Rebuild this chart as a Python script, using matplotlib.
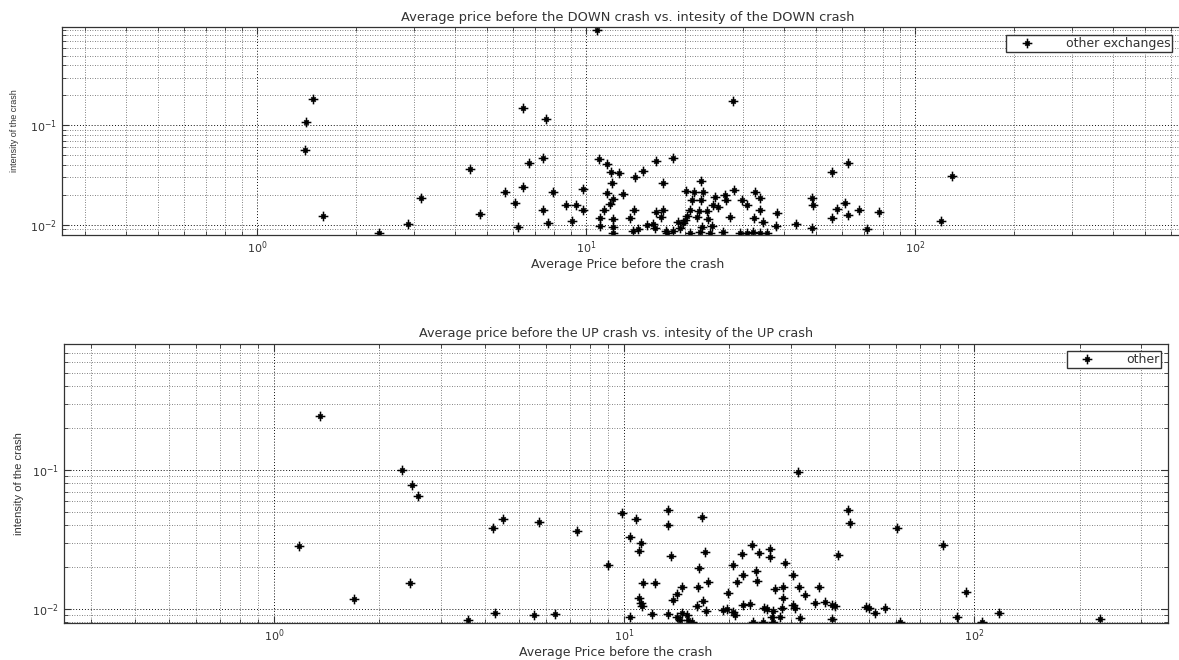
import numpy as np
import matplotlib
matplotlib.use("Agg")
import matplotlib.pyplot as plt
from matplotlib.path import Path
from matplotlib.ticker import LogLocator, NullFormatter, LogFormatterSciNotation

plt.rcParams['font.family'] = ['DejaVu Sans']
plt.rcParams['mathtext.default'] = 'regular'

# DOWN crash: average price before the crash vs. intensity
down_price = [1.48, 1.41, 1.40, 1.59, 2.35, 2.88, 3.15, 4.44, 4.76, 5.67,
              6.08, 6.21, 6.43, 6.43, 6.71, 7.40, 7.56, 7.40, 7.66, 7.94,
              8.70, 9.32, 9.07, 9.79, 9.79, 10.8, 10.95, 11.58, 11.91, 12.6,
              12.0, 11.58, 12.08, 11.83, 11.34, 11.03, 11.03, 12.08, 12.08, 12.08,
              12.96, 14.09, 14.9, 14.0, 13.6, 13.9, 14.39, 16.3, 18.38, 17.14,
              16.3, 17.14, 16.9, 15.98, 16.2, 17.5, 18.38, 28.0, 22.37, 20.1,
              21.3, 22.7, 21.0, 22.37, 24.7, 26.5, 26.6, 28.2, 24.3, 25.2,
              20.7, 22.06, 23.3, 20.3, 21.75, 23.5, 20.0, 19.04, 19.72, 27.4,
              29.8, 30.9, 32.6, 33.8, 33.8, 32.4, 34.5, 38.1, 37.8, 43.5,
              48.6, 49.0, 55.9, 57.9, 55.9, 48.6, 17.63, 20.7, 22.2, 23.8,
              26.1, 29.4, 30.9, 32.2, 33.8, 35.5, 15.33, 19.3, 22.5, 24.2,
              61.3, 62.6, 62.6, 67.6, 71.5, 77.7, 120.0, 129.6]
down_intensity = [0.183, 0.107, 0.0559, 0.0123, 0.0083, 0.0102, 0.0187, 0.0368, 0.0129, 0.0215,
                  0.0167, 0.0095, 0.148, 0.0242, 0.0423, 0.0475, 0.115, 0.0142, 0.0105, 0.0215,
                  0.0159, 0.0159, 0.0110, 0.0231, 0.0142, 0.915, 0.0464, 0.0413, 0.0343, 0.0335,
                  0.0266, 0.0210, 0.0183, 0.0163, 0.0142, 0.0118, 0.0098, 0.0115, 0.0095, 0.0083,
                  0.0206, 0.0305, 0.0351, 0.0142, 0.0118, 0.0087, 0.0091, 0.0443, 0.0475, 0.0266,
                  0.0135, 0.0142, 0.0120, 0.0102, 0.0093, 0.0087, 0.0087, 0.175, 0.0278, 0.0220,
                  0.0215, 0.0215, 0.0179, 0.0179, 0.0192, 0.0201, 0.0179, 0.0226, 0.0159, 0.0152,
                  0.0142, 0.0139, 0.0139, 0.0123, 0.0120, 0.0115, 0.0112, 0.0107, 0.0105, 0.0120,
                  0.0179, 0.0159, 0.0215, 0.0187, 0.0142, 0.0118, 0.0107, 0.0132, 0.0098, 0.0102,
                  0.0187, 0.0159, 0.0343, 0.0145, 0.0118, 0.0093, 0.0083, 0.0083, 0.0085, 0.0083,
                  0.0085, 0.0083, 0.0083, 0.0085, 0.0083, 0.0083, 0.0100, 0.0093, 0.0095, 0.0098,
                  0.0167, 0.0423, 0.0126, 0.0142, 0.0091, 0.0135, 0.0110, 0.0313]

# UP crash
up_price = [1.353, 1.693, 1.179, 2.321, 2.479, 2.579, 2.446, 3.584, 4.224, 4.511,
            4.28, 5.72, 5.53, 6.35, 7.34, 9.00, 9.87, 10.82, 13.36, 13.36,
            16.71, 10.40, 11.18, 11.04, 13.62, 17.03, 16.38, 11.33, 12.27, 11.04,
            11.18, 11.26, 10.40, 12.02, 13.36, 14.17, 14.65, 15.14, 14.45, 15.24,
            15.64, 13.8, 14.17, 14.65, 16.27, 17.38, 16.17, 16.82, 17.15, 19.83,
            19.18, 19.7, 20.48, 20.76, 20.48, 21.88, 21.03, 23.21, 21.74, 24.3,
            26.13, 26.13, 23.84, 23.99, 28.84, 30.4, 31.62, 27.0, 28.47, 28.47,
            21.88, 22.9, 25.12, 25.62, 26.65, 28.28, 27.91, 26.48, 23.37, 24.95,
            26.65, 30.4, 30.8, 31.83, 43.65, 44.23, 60.26, 81.55, 40.87, 36.07,
            32.9, 35.13, 37.52, 39.29, 40.08, 39.29, 49.13, 50.12, 52.14, 55.68,
            61.45, 94.87, 89.4, 105.4, 117.9, 229.1, 31.41]
up_intensity = [0.245, 0.0118, 0.0284, 0.100, 0.078, 0.065, 0.0154, 0.0083, 0.0383, 0.0444,
                0.0094, 0.0423, 0.0091, 0.0092, 0.0364, 0.0207, 0.049, 0.0444, 0.0516, 0.0402,
                0.0459, 0.033, 0.0298, 0.0261, 0.0241, 0.0257, 0.0197, 0.0154, 0.0154, 0.012,
                0.011, 0.0105, 0.0088, 0.0092, 0.0092, 0.0088, 0.0094, 0.0091, 0.0083, 0.0083,
                0.0081, 0.0116, 0.0128, 0.0144, 0.0144, 0.0156, 0.0105, 0.0114, 0.0097, 0.013,
                0.0098, 0.0100, 0.0095, 0.0091, 0.0207, 0.0176, 0.0156, 0.0289, 0.0249, 0.0253,
                0.027, 0.0237, 0.0188, 0.0159, 0.0214, 0.0176, 0.0144, 0.0139, 0.0144, 0.012,
                0.0107, 0.0109, 0.0102, 0.0100, 0.0097, 0.0102, 0.0088, 0.0088, 0.0081, 0.0080,
                0.0081, 0.0107, 0.0102, 0.0086, 0.0516, 0.0416, 0.0383, 0.0289, 0.0245, 0.0144,
                0.0126, 0.011, 0.0112, 0.0107, 0.0105, 0.0085, 0.0103, 0.0102, 0.0094, 0.0102,
                0.0080, 0.0133, 0.0088, 0.0081, 0.0094, 0.0085, 0.0967]

# matlab-like '*' marker: plus with shorter diagonals
d = 0.45
star = Path([(-1, 0), (1, 0), (0, -1), (0, 1), (-d, -d), (d, d), (-d, d), (d, -d)],
            [Path.MOVETO, Path.LINETO] * 4)

txt = '0.2'
fig = plt.figure(figsize=(11.79, 6.6), dpi=100)

ax1 = fig.add_axes([0.0526, 0.6439, 0.9593, 0.3152])
ax2 = fig.add_axes([0.0543, 0.0561, 0.9364, 0.4227])


def style(ax, xlim, ylim):
    ax.set_xscale('log')
    ax.set_yscale('log')
    ax.set_xlim(*xlim)
    ax.set_ylim(*ylim)
    for a in (ax.xaxis, ax.yaxis):
        a.set_major_locator(LogLocator(base=10))
        a.set_minor_locator(LogLocator(base=10, subs=np.arange(2, 10), numticks=50))
        a.set_minor_formatter(NullFormatter())
        a.set_major_formatter(LogFormatterSciNotation())
    ax.grid(True, which='major', color='0.05', linestyle=(0, (1, 2)), linewidth=0.7)
    ax.grid(True, which='minor', color='0.35', linestyle=(0, (1, 2)), linewidth=0.6)
    ax.tick_params(which='both', direction='in', top=True, right=True,
                   colors='0.2', labelcolor=txt, labelsize=8)
    ax.tick_params(which='major', length=5, width=0.8)
    ax.tick_params(which='minor', length=3, width=0.6)
    for s in ax.spines.values():
        s.set_color('0.2')
        s.set_linewidth(0.9)


style(ax1, (0.2555, 700), (0.00792, 0.97))
style(ax2, (0.2512, 358), (0.00793, 0.806))

ax1.plot(down_price, down_intensity, linestyle='none', marker=star, markersize=7,
         markeredgewidth=1.1, color='k', label='other exchanges')
ax2.plot(up_price, up_intensity, linestyle='none', marker=star, markersize=7,
         markeredgewidth=1.1, color='k', label='other')

ax1.set_title('Average price before the DOWN crash vs. intesity of the DOWN crash',
              fontsize=9.4, color=txt, pad=4)
ax2.set_title('Average price before the UP crash vs. intesity of the UP crash',
              fontsize=9.2, color=txt, pad=5)
ax1.set_xlabel('Average Price before the crash', fontsize=9, color=txt, labelpad=1)
ax2.set_xlabel('Average Price before the crash', fontsize=9, color=txt, labelpad=1)
ax1.set_ylabel('intensity of the crash', fontsize=6.5, color=txt, labelpad=8,
               family='Liberation Sans')
ax2.set_ylabel('intensity of the crash', fontsize=8, color=txt, labelpad=6,
               family='Liberation Sans')

for ax, (rx, ty) in ((ax1, (1172, 35)), (ax2, (1161, 351))):
    leg = ax.legend(loc='upper right', bbox_to_anchor=(rx / 1179, 1 - ty / 660),
                    bbox_transform=fig.transFigure, fontsize=9, frameon=True,
                    fancybox=False, framealpha=1, edgecolor='0.2', borderpad=0.15,
                    handlelength=3.0, handletextpad=1.6, borderaxespad=0)
    leg.get_frame().set_linewidth(1.0)
    for t in leg.get_texts():
        t.set_color(txt)

fig.savefig('out.png', dpi=100)
